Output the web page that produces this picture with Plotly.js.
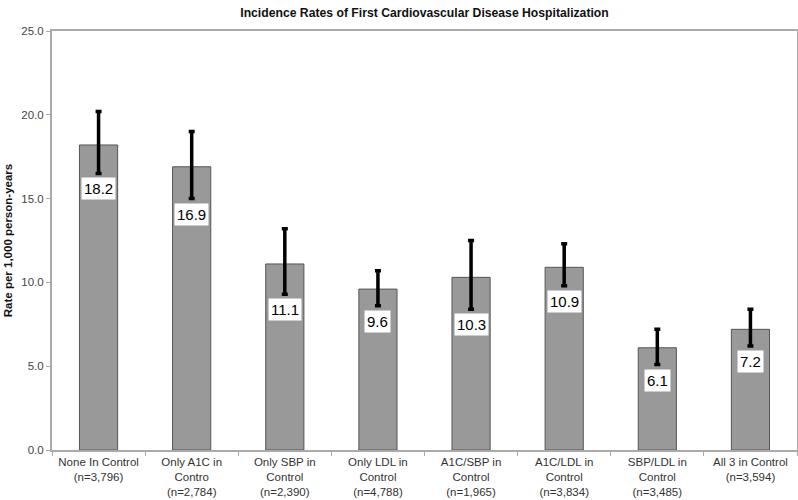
<!DOCTYPE html>
<html><head><meta charset="utf-8">
<script src="https://cdn.plot.ly/plotly-3.0.1.min.js"></script>
<style>body{margin:0;background:#fff}#c{width:798px;height:500px}</style>
</head><body><div id="c"></div>
<script>
const categories = ["None In Control<br>(n=3,796)","Only A1C in<br>Contro<br>(n=2,784)","Only SBP in<br>Control<br>(n=2,390)","Only LDL in<br>Control<br>(n=4,788)","A1C/SBP in<br>Control<br>(n=1,965)","A1C/LDL in<br>Control<br>(n=3,834)","SBP/LDL in<br>Control<br>(n=3,485)","All 3 in Control<br>(n=3,594)"];
const rates = [18.2, 16.9, 11.1, 9.6, 10.3, 10.9, 6.1, 7.2];
const upperCI = [20.2, 19.0, 13.2, 10.7, 12.5, 12.3, 7.2, 8.4];
const lowerCI = [16.5, 15.0, 9.3, 8.6, 8.4, 9.8, 5.1, 6.2];

const errPlus = rates.map((v,i)=>+(upperCI[i]-v).toFixed(2));
const errMinus = rates.map((v,i)=>+(v-lowerCI[i]).toFixed(2));

const trace = {
  type:'bar', x:categories, y:rates, width:0.41,
  marker:{color:'#999999', line:{color:'#555555', width:1}},
  error_y:{type:'data', symmetric:false, array:errPlus, arrayminus:errMinus,
           color:'#000000', thickness:3.5, width:3},
  hoverinfo:'none'
};
const annotations = categories.map((c,i)=>({
  x:c, y:lowerCI[i], xref:'x', yref:'y', yanchor:'top', yshift:-4,
  text:rates[i].toFixed(1), showarrow:false, bgcolor:'#ffffff',
  font:{family:'Liberation Sans, Arial, sans-serif', size:15, color:'#000'},
  borderpad:2
}));
const layout = {
  width:798, height:500,
  margin:{l:52, r:1, t:31, b:50},
  paper_bgcolor:'#fff', plot_bgcolor:'#fff',
  showlegend:false,
  title:{text:'<b>Incidence Rates of First Cardiovascular Disease Hospitalization</b>',
         font:{family:'Liberation Sans, Arial, sans-serif', size:12.2, color:'#111'},
         x:0.5, xref:'paper', y:0.975, yanchor:'middle'},
  xaxis:{tickson:'boundaries', ticks:'outside', ticklen:4, tickcolor:'#aaa',
         showline:true, linecolor:'#aaa', linewidth:2, mirror:true,
         tickfont:{family:'Liberation Sans, Arial, sans-serif', size:11.5, color:'#333'},
         showgrid:false, fixedrange:true},
  yaxis:{range:[0,25], dtick:5, tickformat:'.1f', ticks:'outside', ticklen:4, tickcolor:'#aaa',
         showline:true, linecolor:'#aaa', linewidth:2, mirror:true, showgrid:false, zeroline:false,
         tickfont:{family:'Liberation Sans, Arial, sans-serif', size:11.5, color:'#444'},
         title:{text:'<b>Rate per 1,000 person-years</b>', standoff:6,
                font:{family:'Liberation Sans, Arial, sans-serif', size:11.5, color:'#111'}}},
  annotations:annotations
};
Plotly.newPlot('c',[trace],layout,{displayModeBar:false,staticPlot:true});
</script></body></html>
